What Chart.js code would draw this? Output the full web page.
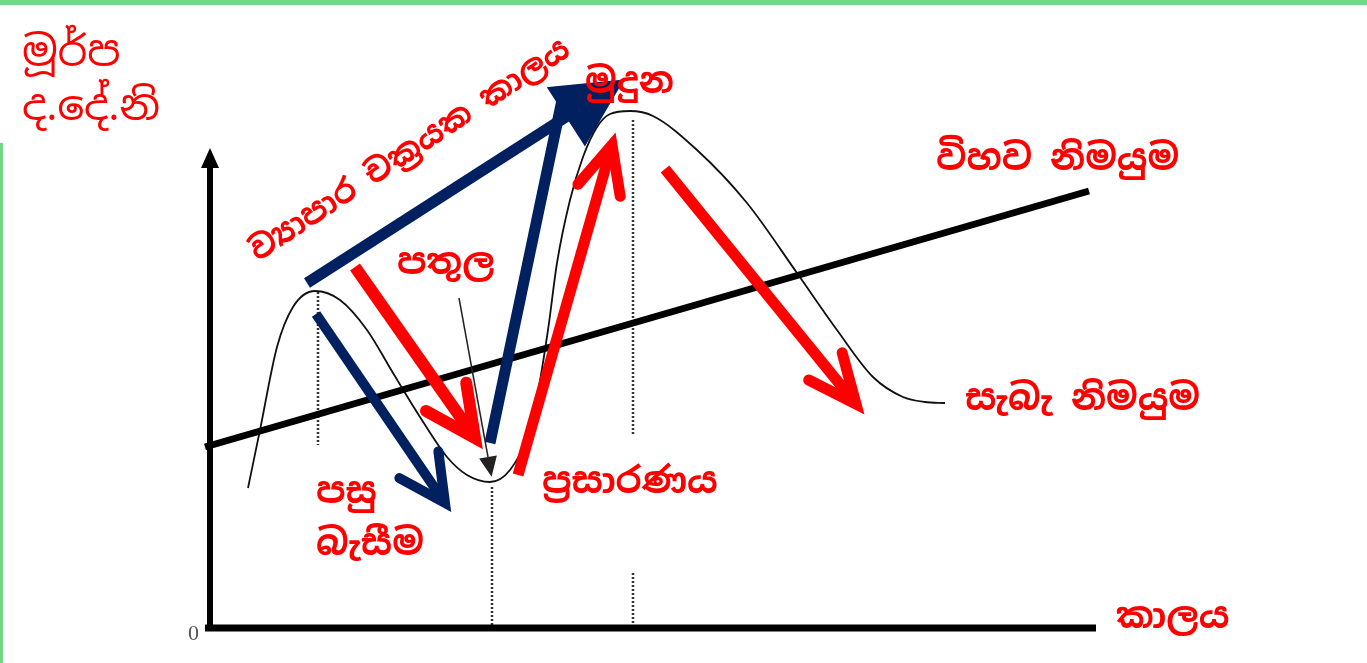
<!DOCTYPE html>
<html>
<head>
<meta charset="utf-8">
<script src="https://cdn.jsdelivr.net/npm/chart.js@4.4.1/dist/chart.umd.min.js"></script>
<style>
  html, body { margin: 0; padding: 0; background: #fff; overflow: hidden; }
  #wrap { position: relative; width: 1367px; height: 663px; }
  #topEdge { position: absolute; left: 0; top: 0; width: 1367px; height: 5px; background: #72d98b; }
  #leftEdge { position: absolute; left: 0; top: 143px; width: 3px; height: 520px; background: #72d98b; }
</style>
</head>
<body>
<div id="wrap">
  <canvas id="cycleChart" width="1367" height="663"></canvas>
  <div id="topEdge"></div>
  <div id="leftEdge"></div>
</div>
<script>
// actual output (business cycle) - time vs output, origin at the axes corner
const cycleTime   = [38, 50, 67, 83, 105, 130, 157, 183, 210, 237, 257, 280, 300, 317, 327, 338, 347, 360, 373, 387, 400, 420, 443, 487, 537, 587, 627, 663, 693, 715, 735];
const cycleOutput = [140, 198, 281, 321, 337, 328, 298, 255, 211, 171, 153, 146, 158, 191, 231, 298, 365, 428, 471, 501, 514, 517, 512, 478, 425, 355, 298, 251, 231, 226, 225];

// potential output trend
const potentialTime   = [-5, 879];
const potentialOutput = [181, 437];

// axes
const timeAxis   = [[-5, 0], [886, 0]];
const outputAxis = [[0, -3], [0, 460]];

// dotted guides at peaks / trough
const guidePeak1  = [[108, 336], [108, 183]];
const guideTrough = [[282, 141], [282, 0]];
const guidePeak2a = [[423, 508], [423, 193]];
const guidePeak2b = [[423, 55], [423, 0]];

// arrows: [start, end]
const navyCycle   = [[97, 345], [404, 542]];
const navyRise    = [[280, 185], [352, 528]];
const navyFall    = [[106, 314], [235, 125]];
const redFall     = [[145, 361], [265, 190]];
const redRise     = [[308, 153], [402, 483]];
const redDecline  = [[455, 459], [646, 224]];
const troughPointer = [[249, 330], [278, 171]];

// text labels
const labels = [
  { text: 'මූර්ප', at: [-188, 562], plain: true },
  { text: 'ද.දේ.නි', at: [-188, 508], plain: true },
  { text: 'ව්‍යාපාර චක්‍රයක කාලය', at: [48, 366], rot: -33.5, small: true },
  { text: 'මුදුන', at: [375, 535] },
  { text: 'පතුල', at: [187, 354] },
  { text: 'විහව නිමයුම', at: [726, 458] },
  { text: 'සැබැ නිමයුම', at: [755, 218] },
  { text: 'පසු', at: [106, 125] },
  { text: 'බැසීම', at: [106, 73] },
  { text: 'ප්‍රසාරණය', at: [332, 135] },
  { text: 'කාලය', at: [906, 0] }
];

const NAVY = '#002060';
const RED = '#ff0000';
const SINHALA = '"Noto Sans Sinhala", "Iskoola Pota", "Noto Sans", sans-serif';

function pts(list) { return list.map(p => ({ x: p[0], y: p[1] })); }

const diagramMarks = {
  id: 'diagramMarks',
  afterDatasetsDraw(chart) {
    const ctx = chart.ctx;
    chart.data.datasets.forEach((ds, i) => {
      if (!ds.head) return;
      const el = chart.getDatasetMeta(i).data;
      const a = el[el.length - 2], b = el[el.length - 1];
      const ang = Math.atan2(b.y - a.y, b.x - a.x);
      const h = ds.head;
      ctx.save();
      ctx.strokeStyle = ds.borderColor;
      ctx.fillStyle = ds.borderColor;
      if (h.filled) {
        const tx = b.x + Math.cos(ang) * h.len, ty = b.y + Math.sin(ang) * h.len;
        const nx = -Math.sin(ang) * h.half, ny = Math.cos(ang) * h.half;
        ctx.beginPath();
        ctx.moveTo(tx, ty);
        ctx.lineTo(b.x + nx, b.y + ny);
        ctx.lineTo(b.x - nx, b.y - ny);
        ctx.closePath();
        ctx.fill();
      } else {
        const t = h.angle * Math.PI / 180;
        ctx.lineWidth = ds.borderWidth;
        ctx.lineCap = 'round';
        ctx.lineJoin = 'miter';
        ctx.beginPath();
        ctx.moveTo(b.x - Math.cos(ang + t) * h.len, b.y - Math.sin(ang + t) * h.len);
        ctx.lineTo(b.x, b.y);
        ctx.lineTo(b.x - Math.cos(ang - t) * h.len, b.y - Math.sin(ang - t) * h.len);
        if (h.solid) { ctx.closePath(); ctx.fill(); }
        ctx.stroke();
      }
      ctx.restore();
    });
  },
  afterDraw(chart) {
    const ctx = chart.ctx, xs = chart.scales.x, ys = chart.scales.y;
    ctx.save();
    ctx.fillStyle = RED;
    ctx.textBaseline = 'alphabetic';
    labels.forEach(l => {
      const px = xs.getPixelForValue(l.at[0]), py = ys.getPixelForValue(l.at[1]);
      ctx.font = l.plain ? '42px ' + SINHALA : (l.small ? 'bold 32px ' + SINHALA : 'bold 36px ' + SINHALA);
      ctx.save();
      ctx.translate(px, py);
      if (l.rot) ctx.rotate(l.rot * Math.PI / 180);
      ctx.fillText(l.text, 0, 0);
      ctx.restore();
    });
    // origin mark
    ctx.fillStyle = '#555';
    ctx.font = '22px "Liberation Serif", "DejaVu Serif", serif';
    ctx.fillText('0', xs.getPixelForValue(-22), ys.getPixelForValue(-12));
    ctx.restore();
  }
};

function line(data, color, width, extra) {
  return Object.assign({
    data: pts(data), showLine: true, borderColor: color, backgroundColor: color,
    borderWidth: width, pointRadius: 0, fill: false
  }, extra || {});
}

new Chart(document.getElementById('cycleChart').getContext('2d'), {
  type: 'scatter',
  data: {
    datasets: [
      line(navyCycle, NAVY, 11, { head: { len: 58, angle: 27, solid: true } }),
      line(navyRise, NAVY, 11),
      line(navyFall, NAVY, 10, { head: { len: 52, angle: 27 } }),
      line(redFall, RED, 12, { head: { len: 56, angle: 26 } }),
      line(redRise, RED, 11, { head: { len: 52, angle: 25 } }),
      line(redDecline, RED, 11, { head: { len: 53, angle: 24 } }),
      line(troughPointer, '#222', 1.5, { head: { filled: true, len: 20, half: 9 } }),
      line(outputAxis, '#000', 6, { head: { filled: true, len: 20, half: 9 } }),
      line(timeAxis, '#000', 7),
      line(potentialTime.map((t, i) => [t, potentialOutput[i]]), '#000', 7),
      line(cycleTime.map((t, i) => [t, cycleOutput[i]]), '#111', 1.8, { tension: 0.4, cubicInterpolationMode: 'monotone' }),
      line(guidePeak1, '#333', 2.5, { borderDash: [2, 2] }),
      line(guideTrough, '#333', 2.5, { borderDash: [2, 2] }),
      line(guidePeak2a, '#333', 2.5, { borderDash: [2, 2] }),
      line(guidePeak2b, '#333', 2.5, { borderDash: [2, 2] })
    ]
  },
  options: {
    responsive: false,
    animation: false,
    layout: { padding: 0 },
    scales: {
      x: { type: 'linear', min: -210, max: 1157, display: false },
      y: { type: 'linear', min: -35, max: 628, display: false }
    },
    plugins: {
      legend: { display: false },
      tooltip: { enabled: false }
    }
  },
  plugins: [diagramMarks]
});
</script>
</body>
</html>
